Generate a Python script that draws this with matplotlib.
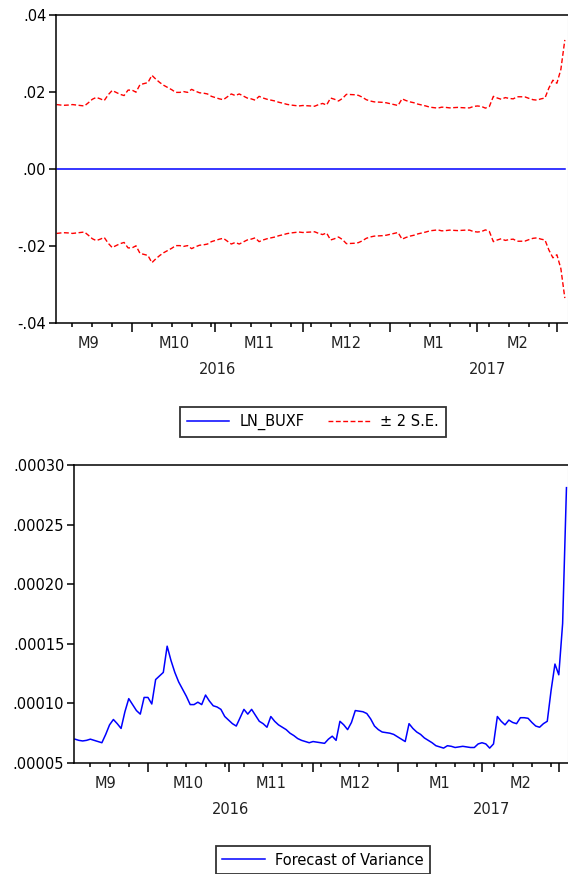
import numpy as np
import pandas as pd
import matplotlib
matplotlib.use("Agg")
import matplotlib.pyplot as plt
from matplotlib.lines import Line2D

# ---- data: daily (Mon-Fri) forecast of variance ----
dates = pd.bdate_range("2016-09-06", "2017-03-03")
variance_e5 = [  # units of 1e-5
    7.0, 6.9, 6.85, 6.9, 7.0, 6.9, 6.8, 6.7, 7.4, 8.2,
    8.65, 8.3, 7.9, 9.3, 10.4, 9.9, 9.4, 9.1, 10.5, 10.5,
    9.95, 12.0, 12.3, 12.6, 14.8, 13.6, 12.6, 11.8, 11.2, 10.6,
    9.9, 9.9, 10.1, 9.9, 10.7, 10.2, 9.8, 9.7, 9.5, 8.9,
    8.6, 8.3, 8.1, 8.8, 9.5, 9.1, 9.5, 9.0, 8.5, 8.3,
    8.0, 8.9, 8.5, 8.2, 8.0, 7.8, 7.5, 7.3, 7.05, 6.9,
    6.8, 6.7, 6.8, 6.75, 6.7, 6.65, 7.0, 7.25, 6.9, 8.5,
    8.2, 7.8, 8.4, 9.4, 9.35, 9.3, 9.15, 8.7, 8.1, 7.8,
    7.6, 7.55, 7.5, 7.4, 7.2, 7.0, 6.8, 8.3, 7.9, 7.6,
    7.4, 7.1, 6.9, 6.7, 6.45, 6.35, 6.25, 6.45, 6.4, 6.3,
    6.35, 6.4, 6.35, 6.3, 6.3, 6.6, 6.7, 6.6, 6.25, 6.6,
    8.9, 8.5, 8.2, 8.6, 8.4, 8.3, 8.8, 8.8, 8.75, 8.4,
    8.1, 8.0, 8.3, 8.5, 11.1, 13.3, 12.4, 16.7, 28.1,
]
forecast_mean = 0.0          # LN_BUXF point forecast
month_names = ["M9", "M10", "M11", "M12", "M1", "M2"]
year_labels = ["2016", "2017"]
top_yticks = [-0.04, -0.02, 0.0, 0.02, 0.04]
top_yticklabels = ["-.04", "-.02", ".00", ".02", ".04"]
bot_yticks = [0.00005, 0.00010, 0.00015, 0.00020, 0.00025, 0.00030]
bot_yticklabels = [".00005", ".00010", ".00015", ".00020", ".00025", ".00030"]

var = np.array(variance_e5) * 1e-5
idx = np.arange(len(dates))
forecast = np.full(len(dates), forecast_mean)
se2 = 2 * np.sqrt(var)

plt.rcParams["font.family"] = ["DejaVu Sans"]
FS = 10.5
BLUE, RED = "#0000ff", "#ff0000"

# month starts (index of first business day of each month) + Monday ticks
month_start = [i for i in range(1, len(dates)) if dates[i].month != dates[i - 1].month]
mondays = [i for i in idx if dates[i].weekday() == 0]
# September began 3 business days before the first observation
bounds = [-3] + month_start
month_mid = [(a + b) / 2 for a, b in zip(bounds[:-1], bounds[1:])]
year_pos = [40.5, 108.5]


def style_axis(ax, xlim, yticks, yticklabels, ylim):
    ax.set_xlim(*xlim)
    ax.set_ylim(*ylim)
    for s in ("left", "top", "bottom"):
        ax.spines[s].set_linewidth(1.1)
    ax.spines["right"].set_color("#c8c8c8")
    ax.set_yticks(yticks)
    ax.set_yticklabels(yticklabels, fontsize=FS)
    ax.tick_params(axis="y", direction="out", length=5, width=1.1, pad=2)
    ax.set_xticks(month_start)
    ax.set_xticklabels([])
    ax.set_xticks([m for m in mondays if m not in month_start], minor=True)
    ax.tick_params(axis="x", which="major", direction="out", length=6.5, width=1.1)
    ax.tick_params(axis="x", which="minor", direction="out", length=3.2, width=1.1)
    ax.tick_params(axis="y", which="minor", left=False)
    for name, xm in zip(month_names, month_mid):
        ax.annotate(name, xy=(xm, 0), xycoords=("data", "axes fraction"),
                    xytext=(0, -21), textcoords="offset pixels",
                    ha="center", va="center", fontsize=FS, color="#222222")
    for name, xm in zip(year_labels, year_pos):
        ax.annotate(name, xy=(xm, 0), xycoords=("data", "axes fraction"),
                    xytext=(0, -47), textcoords="offset pixels",
                    ha="center", va="center", fontsize=FS, color="#222222")


fig = plt.figure(figsize=(5.68, 8.74), dpi=100)

# ---- top: forecast with +/- 2 S.E. bands ----
ax1 = fig.add_axes([56 / 568, 1 - 323 / 874, 512 / 568, 308 / 874])
ax1.plot(idx, forecast, color=BLUE, lw=1.1)
ax1.plot(idx, se2, color=RED, lw=1.0, dashes=(3.5, 1.8))
ax1.plot(idx, -se2, color=RED, lw=1.0, dashes=(3.5, 1.8))
style_axis(ax1, (-0.15, 128.8), top_yticks, top_yticklabels, (-0.04, 0.04))

h1 = [Line2D([], [], color=BLUE, lw=1.1),
      Line2D([], [], color=RED, lw=1.0, dashes=(3.5, 1.8))]
fig.legend(h1, ["LN_BUXF", "\u00b1 2 S.E."], loc="center",
           bbox_to_anchor=(313 / 568, 1 - 422 / 874), ncol=2, fontsize=FS,
           frameon=True, fancybox=False, edgecolor="black", handlelength=2.9,
           columnspacing=1.6, borderpad=0.45, handletextpad=0.7,
           borderaxespad=0)

# ---- bottom: forecast of variance ----
ax2 = fig.add_axes([74 / 568, 1 - 763 / 874, 494 / 568, 298 / 874])
ax2.plot(idx, var, color=BLUE, lw=1.1)
style_axis(ax2, (-0.26, 128.4), bot_yticks, bot_yticklabels, (0.00005, 0.00030))

h2 = [Line2D([], [], color=BLUE, lw=1.1)]
fig.legend(h2, ["Forecast of Variance"], loc="upper center",
           bbox_to_anchor=(323 / 568, 1 - 846 / 874), fontsize=FS,
           frameon=True, fancybox=False, edgecolor="black", handlelength=2.9,
           borderpad=0.45, handletextpad=0.7, borderaxespad=0)

for lg in fig.legends:
    lg.get_frame().set_linewidth(1.3)

fig.savefig("out.png", dpi=100)
